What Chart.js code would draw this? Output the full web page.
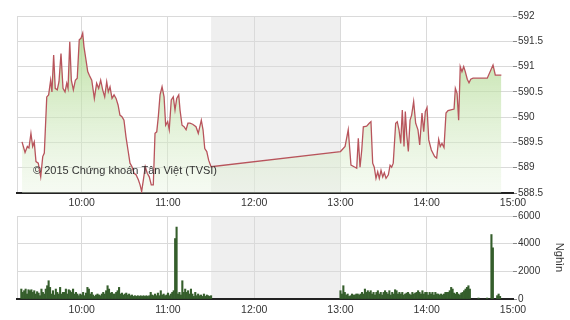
<!DOCTYPE html>
<html>
<head>
<meta charset="utf-8">
<script src="https://cdn.jsdelivr.net/npm/chart.js@4.4.0/dist/chart.umd.min.js"></script>
<style>
  html, body { margin: 0; padding: 0; background: #fff; }
  #wrap { position: relative; width: 570px; height: 320px; }
  #priceBox { position: absolute; left: 0; top: 0; width: 570px; height: 208px; }
  #volBox { position: absolute; left: 0; top: 208px; width: 570px; height: 112px; }
</style>
</head>
<body>
<div id="wrap">
  <div id="priceBox"><canvas id="priceChart"></canvas></div>
  <div id="volBox"><canvas id="volChart"></canvas></div>
</div>
<script>
/* data - times are minutes after 9:00 */
const priceTimes = [
  18.5, 20.6, 22.2, 23.3, 24.7, 25.9, 27.0, 28.2, 29.8, 31.5,
  32.9, 34.0, 35.7, 37.0, 38.4, 39.3, 40.5, 41.6, 43.0, 44.2,
  45.6, 47.0, 48.4, 49.6, 50.5, 51.7, 52.8, 54.2, 55.6, 56.9,
  58.3, 59.5, 60.7, 61.6, 63.0, 64.2, 65.3, 67.0, 68.8, 70.4,
  71.8, 73.2, 74.6, 76.0, 77.4, 78.5, 79.7, 81.1, 82.5, 83.9,
  85.3, 86.6, 88.0, 89.4, 90.8, 92.2, 93.6, 95.0, 96.4, 97.8,
  99.4, 100.6, 101.7, 102.9, 104.2, 105.6, 107.0, 108.4, 109.8, 111.0,
  112.2, 113.3, 114.5, 115.9, 117.3, 118.4, 119.8, 120.9, 122.3, 123.7,
  124.9, 126.1, 127.5, 128.4, 129.8, 131.2, 132.6, 133.9, 135.3, 137.2,
  139.5, 141.1, 143.2, 144.4, 145.6, 147.0, 148.3, 150.0,
  240.0, 243.2, 245.4, 247.3, 250.1, 251.3, 252.4, 253.6, 254.8, 255.9,
  258.2, 260.0, 261.2, 262.4, 263.5, 264.7, 265.9, 267.0, 268.2, 269.4,
  270.5, 271.7, 273.3, 274.5, 275.6, 276.7, 278.4, 279.5, 280.7, 281.9,
  283.0, 284.2, 285.1, 286.1, 287.2, 288.4, 289.5, 290.9, 292.3, 293.9,
  295.1, 296.7, 297.9, 299.0, 300.2, 301.4, 303.2, 305.5, 306.9, 308.3,
  309.4, 310.6, 312.0, 313.4, 314.8, 319.0, 319.9, 321.1, 322.2, 323.3,
  324.5, 325.7, 326.8, 328.2, 329.4, 330.6, 332.2, 342.1, 346.1, 347.7,
  351.9
];
const priceValues = [
  589.51, 589.30, 589.42, 589.39, 589.68, 589.42, 589.51, 589.12, 589.09, 588.82,
  589.22, 589.29, 590.40, 590.44, 590.73, 590.50, 591.23, 590.57, 590.54, 590.70,
  591.26, 590.57, 590.50, 590.67, 590.57, 591.49, 590.73, 590.54, 590.73, 590.77,
  591.53, 591.56, 591.66, 591.39, 591.13, 590.90, 590.83, 590.73, 590.37, 590.67,
  590.57, 590.73, 590.54, 590.40, 590.70, 590.50, 590.60, 590.37, 590.44, 590.37,
  590.24, 590.04, 590.01, 589.94, 589.61, 589.35, 589.09, 589.02, 588.89, 588.86,
  588.76, 588.66, 588.53, 588.76, 589.02, 588.89, 588.82, 588.66, 588.66, 589.68,
  589.71, 590.01, 590.44, 590.60, 590.40, 589.84, 589.91, 589.75, 590.34, 590.40,
  590.14, 590.37, 590.44, 590.14, 589.84, 589.81, 589.75, 589.88, 589.88, 589.86,
  589.81, 589.68, 589.94, 589.75, 589.38, 589.32, 589.15, 589.02,
  589.32, 589.42, 589.75, 589.05, 589.01, 588.99, 589.58, 589.01, 589.35, 589.81,
  589.82, 589.88, 589.91, 589.09, 589.01, 588.79, 588.92, 588.79, 588.95, 588.82,
  588.90, 588.79, 588.86, 589.05, 589.01, 589.09, 589.88, 589.91, 589.75, 589.48,
  590.14, 589.42, 590.11, 589.65, 589.32, 589.94, 590.04, 590.31, 589.88, 589.75,
  589.45, 590.08, 589.71, 590.11, 590.19, 589.55, 589.35, 589.22, 589.19, 589.56,
  589.42, 589.48, 589.40, 590.08, 590.13, 590.16, 590.57, 590.47, 589.94, 591.00,
  590.90, 591.00, 590.90, 590.75, 590.68, 590.75, 590.77, 590.77, 591.03, 590.83,
  590.83
];

// volume in thousands, one bar per minute
const volAmStart = 18; // 9:18
const volAm = [
  720, 480, 600, 720, 360, 670, 600, 670, 480, 600, 360, 530, 430, 240, 720, 480, 360, 720, 960, 1320, 840, 360, 600,
  290, 720, 480, 360, 840, 360, 480, 480, 720, 360, 670, 600, 480, 720, 360, 480, 360, 240, 360, 290,
  480, 240, 430, 840, 720, 360, 480, 290, 190, 290, 360, 290, 240, 360, 480, 360, 600, 960, 720, 430,
  480, 360, 360, 480, 600, 840, 360, 430, 290, 360,
  430, 290, 360, 240, 290, 190, 240, 190, 240, 190, 240, 190, 240, 190, 240, 190, 240, 480, 290, 240,
  360, 240, 430, 240, 600, 290, 360, 240, 290, 430, 240, 360, 480, 600,
  4370, 5200,
  360, 480, 290, 1320, 480, 720, 480, 600, 360, 720, 360, 190, 480, 240, 360, 240, 290, 190, 360, 190,
  290, 240, 190, 240
];
const volPmStart = 240; // 13:00
const volPm = [
  600, 360, 960, 480, 290, 360, 190, 240, 360, 290,
  290, 360, 360, 290, 360, 480, 360, 720, 480, 600,
  480, 600, 360, 480, 290, 480, 600, 360, 480, 290,
  480, 600, 480, 360, 600, 290, 480, 360, 670, 600,
  360, 480, 360, 480, 290, 360, 430, 480, 360, 290,
  480, 360, 430, 480, 600, 480, 360, 600, 360, 480,
  480, 290, 480, 360, 480, 290, 480, 360, 360, 290,
  360, 290, 360, 480, 480, 480, 600, 840, 720, 430,
  360, 480, 360, 290, 430, 480, 600, 720, 840, 960,
  720
];
const volLateTimes = [336, 342, 345, 346, 349, 350, 351];
const volLate = [70, 70, 4660, 3700, 240, 360, 190];

const hourTicks = [15, 60, 120, 180, 240, 300, 360];
const priceTicks = [588.5, 589, 589.5, 590, 590.5, 591, 591.5, 592];
const volTicks = [0, 2000, 4000, 6000];
const lunchBreak = [150, 240];
const copyright = "© 2015 Chứng khoán Tân Việt (TVSI)";

/* build points */
const pricePoints = priceTimes.map((t, i) => ({ x: t, y: priceValues[i] }));
const volPoints = []
  .concat(volAm.map((v, i) => ({ x: volAmStart + i, y: v })))
  .concat(volPm.map((v, i) => ({ x: volPmStart + i, y: v })))
  .concat(volLate.map((v, i) => ({ x: volLateTimes[i], y: v })));

/* styles */
const fontFamily = "'Liberation Sans', Arial, sans-serif";
const gridColor = "#dadada";
const textColor = "#333";
const lineColor = "#b8545c";
const barColor = "#355e2c";

Chart.defaults.font.family = fontFamily;
Chart.defaults.font.size = 10;
Chart.defaults.color = textColor;

const lunchBand = {
  id: "lunchBand",
  beforeDraw(chart) {
    const xs = chart.scales.x;
    const area = chart.chartArea;
    const c = chart.ctx;
    const x0 = xs.getPixelForValue(lunchBreak[0]);
    const x1 = xs.getPixelForValue(lunchBreak[1]);
    c.save();
    c.fillStyle = "#efefef";
    c.fillRect(x0, area.top, x1 - x0, area.bottom - area.top);
    c.restore();
  },
};

const copyrightText = {
  id: "copyrightText",
  afterDraw(chart) {
    const c = chart.ctx;
    c.save();
    c.font = "11px " + fontFamily;
    c.fillStyle = "#333";
    c.textBaseline = "alphabetic";
    c.fillText(copyright, 33, 174);
    c.restore();
  },
};

function hourLabel(v) {
  if (v === 15) return "";
  return 9 + v / 60 + ":00";
}

function xScale(height, pad) {
  return {
    type: "linear",
    min: 15,
    max: 360,
    offset: false,
    afterBuildTicks: (s) => {
      s.ticks = hourTicks.map((v) => ({ value: v }));
    },
    afterFit: (s) => {
      s.height = height;
    },
    ticks: {
      autoSkip: false,
      maxRotation: 0,
      padding: pad,
      font: { size: 10.5 },
      callback: hourLabel,
    },
    grid: {
      offset: false,
      drawTicks: false,
      color: (ctx) => (ctx.tick && ctx.tick.value === 360 ? "rgba(0,0,0,0)" : gridColor),
    },
    border: { color: "#222", width: 2 },
  };
}

let priceCtx = document.getElementById("priceChart");
let priceChart = new Chart(priceCtx, {
  type: "line",
  data: {
    datasets: [
      {
        data: pricePoints,
        borderColor: lineColor,
        borderWidth: 1.3,
        pointRadius: 0,
        tension: 0,
        fill: "start",
        backgroundColor: (ctx) => {
          const area = ctx.chart.chartArea;
          if (!area) return "rgba(190,225,160,0.5)";
          const g = ctx.chart.ctx.createLinearGradient(0, area.top, 0, area.bottom);
          g.addColorStop(0, "rgba(160,210,122,0.8)");
          g.addColorStop(1, "rgba(232,244,224,0.4)");
          return g;
        },
      },
    ],
  },
  options: {
    responsive: true,
    maintainAspectRatio: false,
    animation: false,
    layout: { padding: { left: 17, top: 16, right: 0, bottom: 0 } },
    plugins: { legend: { display: false }, tooltip: { enabled: false } },
    scales: {
      x: xScale(15, 4),
      y: {
        position: "right",
        min: 588.5,
        max: 592,
        afterBuildTicks: (s) => {
          s.ticks = priceTicks.map((v) => ({ value: v }));
        },
        afterFit: (s) => {
          s.width = 57;
        },
        ticks: { padding: 1, callback: (v) => String(v) },
        grid: { color: gridColor, tickLength: 4, tickColor: "#888" },
        border: { display: false },
      },
    },
  },
  plugins: [lunchBand, copyrightText],
});

let volCtx = document.getElementById("volChart");
let volChart = new Chart(volCtx, {
  type: "bar",
  data: {
    datasets: [
      {
        data: volPoints,
        backgroundColor: barColor,
        barPercentage: 1,
        categoryPercentage: 1,
      },
    ],
  },
  options: {
    responsive: true,
    maintainAspectRatio: false,
    animation: false,
    layout: { padding: { left: 17, top: 8, right: 0, bottom: 0 } },
    plugins: { legend: { display: false }, tooltip: { enabled: false } },
    scales: {
      x: xScale(21, 5),
      y: {
        position: "right",
        min: 0,
        max: 6000,
        afterBuildTicks: (s) => {
          s.ticks = volTicks.map((v) => ({ value: v }));
        },
        afterFit: (s) => {
          s.width = 57;
        },
        ticks: { padding: 1, callback: (v) => String(v) },
        grid: { color: gridColor, tickLength: 4, tickColor: "#888" },
        border: { display: false },
        title: {
          display: true,
          text: "Nghìn",
          font: { size: 11 },
          color: textColor,
          padding: { top: 4, bottom: 0 },
        },
      },
    },
  },
  plugins: [lunchBand],
});
</script>
</body>
</html>
